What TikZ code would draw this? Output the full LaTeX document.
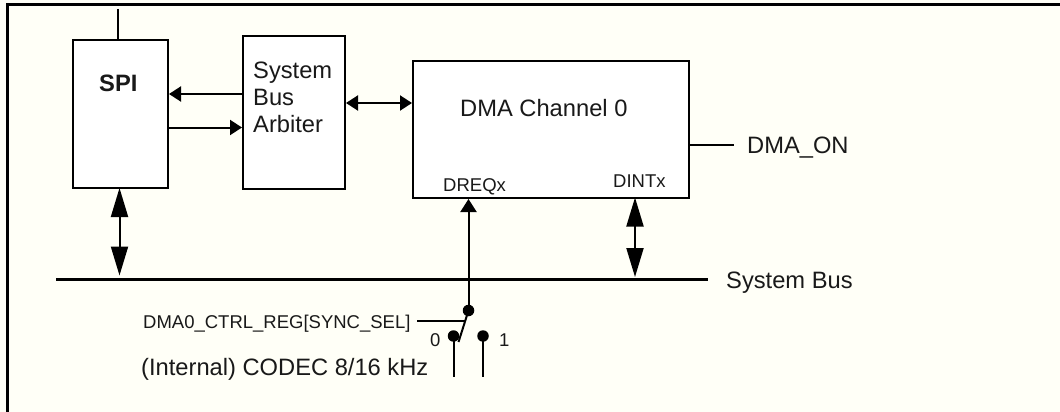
\documentclass[tikz,border=0pt]{standalone}
\usepackage{fontspec}
\setmainfont{Liberation Sans}
\usetikzlibrary{arrows.meta}
\definecolor{paper}{HTML}{FFFFF7}
\tikzset{
  x=1pt,y=-1pt,
  block/.style={draw=black,fill=white,line width=2pt,rectangle,inner sep=0pt,anchor=north west},
  wire/.style={draw=black,line width=2pt},
  thinarrow/.style={wire,-{Triangle[length=12pt,width=15pt]}},
  thinboth/.style={wire,{Triangle[length=12pt,width=15pt]}-{Triangle[length=12pt,width=15pt]}},
  bigboth/.style={wire,{Triangle[length=29pt,width=17pt]}-{Triangle[length=29pt,width=17pt]}},
  buswire/.style={draw=black,line width=3pt},
  dotnode/.style={circle,fill=black,inner sep=0pt,minimum size=11.5pt},
  big/.style={font=\fontsize{23.7}{27}\selectfont,anchor=base west,inner sep=0pt,text=black!90},
  small/.style={font=\fontsize{18.5}{22}\selectfont,anchor=base west,inner sep=0pt,text=black!90},
}
\begin{document}
\begin{tikzpicture}
\useasboundingbox (0,0) rectangle (1060,412);
\fill[paper] (0,0) rectangle (1060,412);
\draw[buswire,line cap=butt] (1060,4.6) -- (7.5,4.6) -- (7.5,412);

% blocks
\node[block,minimum width=95pt,minimum height=148pt] (spi) at (72,39) {};
\node[block,minimum width=102pt,minimum height=153pt] (arb) at (242,35) {};
\node[block,minimum width=275.5pt,minimum height=137pt] (dma) at (412,60) {};

% free ends
\coordinate (spitop) at (118,9);
\coordinate (busL) at (56,279.5);
\coordinate (busR) at (708,279.5);
\coordinate (onend) at (734,145);
\coordinate (selend) at (417,320.7);
\coordinate (zeroend) at (453.5,377);
\coordinate (oneend) at (483,377);
\coordinate (armend) at (458.5,342);

% switch contacts
\node[dotnode] (pivot) at (468.5,310.5) {};
\node[dotnode] (c0) at (453.5,336) {};
\node[dotnode] (c1) at (483,336) {};

% bus
\draw[buswire] (busL) -- (busR);

% connectors
\draw[wire] (spitop) -- (spitop |- spi.north);
\draw[thinarrow] (arb.west |- 0,94) -- (spi.east |- 0,94);
\draw[thinarrow] (spi.east |- 0,127.5) -- (arb.west |- 0,127.5);
\draw[thinboth] (arb.east |- 0,103) -- (dma.west |- 0,103);
\draw[bigboth] (119.5,188) -- (119.5,275.5);
\draw[bigboth] (635,197.5) -- (635,277);
\draw[thinarrow,-{Triangle[length=13pt,width=16pt]}] (pivot.center) -- (pivot.center |- dma.south);
\draw[wire] (dma.east |- onend) -- (onend);
\draw[wire] (selend) -- (465.5,320.7);
\draw[wire] (pivot.center) -- (armend);
\draw[wire] (c0.center) -- (zeroend);
\draw[wire] (c1.center) -- (oneend);

% labels
\node[big,font=\fontsize{23.7}{27}\selectfont\bfseries] (spilabel) at (99,92) {SPI};
\node[big] (l1) at (253,78) {System};
\node[big] (l2) at (253,105) {Bus};
\node[big] (l3) at (253,132) {Arbiter};
\node[big] (dmalabel) at (460,116) {DMA Channel 0};
\node[big] (onlabel) at (747,153) {DMA\_ON};
\node[small] (dreq) at (443,191) {DREQx};
\node[small] (dint) at (613,187) {DINTx};
\node[big] (buslabel) at (726,288) {System Bus};
\node[small] (sel) at (143,328) {DMA0\_CTRL\_REG[SYNC\_SEL]};
\node[big] (codec) at (141,375) {(Internal) CODEC 8/16 kHz};
\node[small] (zero) at (430,346) {0};
\node[small] (one) at (499,346) {1};
\end{tikzpicture}
\end{document}
